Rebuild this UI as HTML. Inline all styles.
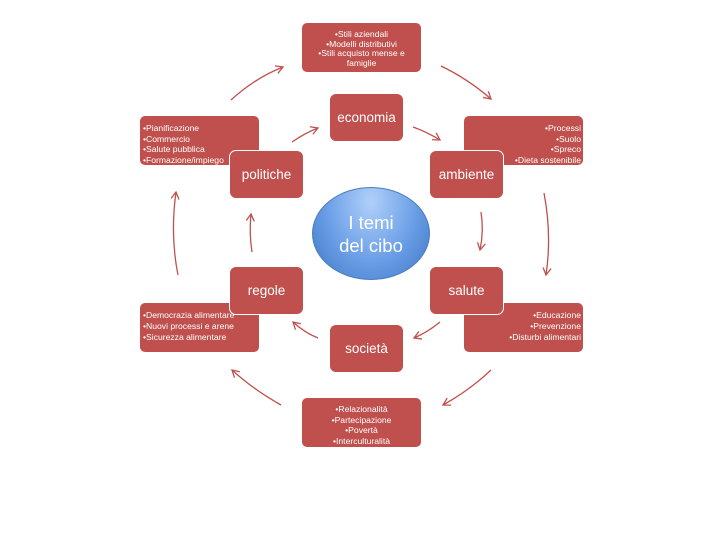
<!DOCTYPE html>
<html><head><style>
body{margin:0;width:720px;height:540px;background:#fff;overflow:hidden;font-family:"Liberation Sans",sans-serif;}
.d{position:absolute;background:#c0504d;border-radius:6px;color:#fff;font-size:8.6px;line-height:9.5px;box-sizing:border-box;border:1px solid #fff;}
.c{position:absolute;background:#c0504d;border:1.5px solid #fff;border-radius:7px;color:#fff;font-size:13.5px;display:flex;align-items:center;justify-content:center;box-sizing:border-box;}
.e{position:absolute;left:312px;top:187px;width:118px;height:93px;border-radius:50%;background:radial-gradient(ellipse at 50% 15%,#b0d0fa,#6a9ee6 55%,#3f76c4);border:1px solid #4a7ebb;color:#fff;font-size:18.5px;line-height:23px;text-align:center;display:flex;align-items:center;justify-content:center;box-sizing:border-box;}
</style></head><body>
<svg width="720" height="540" style="position:absolute;left:0;top:0">
<defs><marker id="a" markerWidth="10" markerHeight="10" refX="8" refY="5" orient="auto" markerUnits="userSpaceOnUse"><path d="M1,1 L8,5 L1,9" fill="none" stroke="#c0504d" stroke-width="1.3"/></marker></defs>
<g fill="none" stroke="#c0504d" stroke-width="1.3" marker-end="url(#a)">
<path d="M231,100 Q255,78 283,67"/>
<path d="M441,66 Q468,79 491,99"/>
<path d="M544,193 Q552,235 546,275"/>
<path d="M491,370 Q470,390 443,405"/>
<path d="M281,405 Q254,390 232,370"/>
<path d="M178,275 Q170,235 176,192"/>
<path d="M292,142 Q305,133 318,128"/>
<path d="M413,127 Q427,132 440,140"/>
<path d="M481,212 Q484,231 480,250"/>
<path d="M440,322 Q428,332 414,338"/>
<path d="M318,338 Q305,333 293,322"/>
<path d="M252,252 Q249,233 251,214"/>
</g></svg>
<div class="d" style="left:301px;top:22px;width:121px;height:51px;text-align:center;padding-top:7px;">•Stili aziendali<br>•Modelli distributivi<br>•Stili acquisto mense e<br>famiglie</div>
<div class="d" style="left:139px;top:115px;width:121px;height:51px;padding:7px 0 0 3px;line-height:10.5px;">•Pianificazione<br>•Commercio<br>•Salute pubblica<br>•Formazione/impiego</div>
<div class="d" style="left:463px;top:115px;width:121px;height:51px;text-align:right;padding:7px 2px 0 0;line-height:10.5px;">•Processi<br>•Suolo<br>•Spreco<br>•Dieta sostenibile</div>
<div class="d" style="left:139px;top:302px;width:121px;height:51px;padding:7px 0 0 3px;font-size:8.6px;line-height:11px;">•Democrazia alimentare<br>•Nuovi processi e arene<br>•Sicurezza alimentare</div>
<div class="d" style="left:463px;top:302px;width:121px;height:51px;text-align:right;padding:7px 2px 0 0;font-size:8.6px;line-height:11px;">•Educazione<br>•Prevenzione<br>•Disturbi alimentari</div>
<div class="d" style="left:301px;top:397px;width:121px;height:51px;text-align:center;padding-top:6px;line-height:10.7px;">•Relazionalità<br>•Partecipazione<br>•Povertà<br>•Interculturalità</div>
<div class="c" style="left:329px;top:93px;width:75px;height:49px;">economia</div>
<div class="c" style="left:229px;top:150px;width:75px;height:49px;">politiche</div>
<div class="c" style="left:429px;top:150px;width:75px;height:49px;">ambiente</div>
<div class="c" style="left:229px;top:266px;width:75px;height:49px;">regole</div>
<div class="c" style="left:429px;top:266px;width:75px;height:49px;">salute</div>
<div class="c" style="left:329px;top:324px;width:75px;height:49px;">società</div>
<div class="e">I temi<br>del cibo</div>
</body></html>
